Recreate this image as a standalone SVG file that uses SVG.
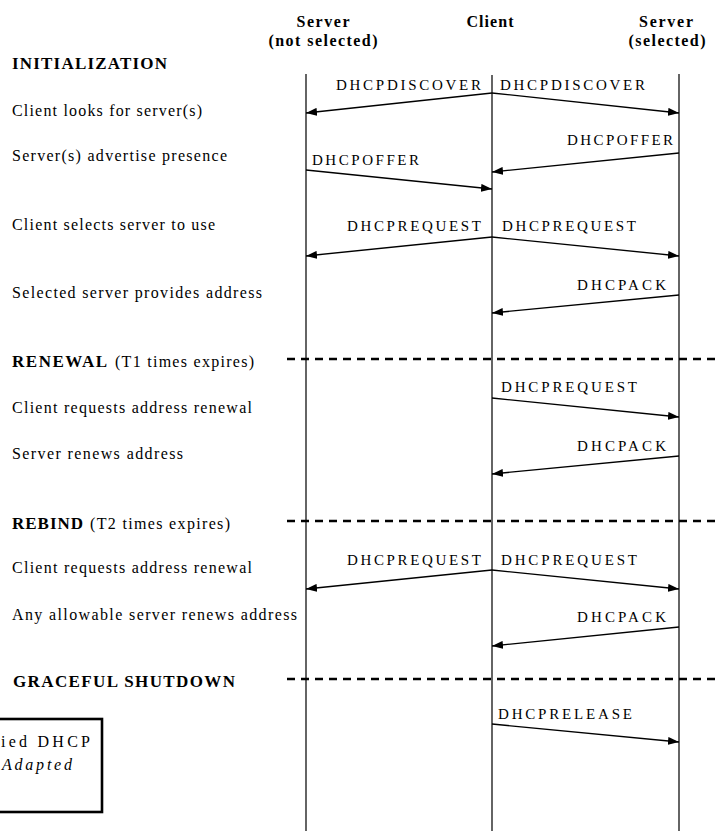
<svg xmlns="http://www.w3.org/2000/svg" width="715" height="833" viewBox="0 0 715 833" font-family="'Liberation Serif', 'DejaVu Serif', 'Times New Roman', serif">
  <defs>
    <marker id="ah" viewBox="0 0 11 8" refX="11" refY="4" markerWidth="11" markerHeight="8" markerUnits="userSpaceOnUse" orient="auto">
      <path d="M0,0 L11,4 L0,8 z" fill="#000"/>
    </marker>
    <style>
      text { font-family: 'Liberation Serif', 'DejaVu Serif', 'Times New Roman', serif; fill: #000; }
      .hdr { font-weight: bold; font-size: 16px; text-anchor: middle; }
      .sec { font-weight: bold; font-size: 17px; }
      .note { font-size: 16px; }
      .msg { font-size: 15px; }
      .life { stroke: #111; stroke-width: 1.3; fill: none; }
      .sep { stroke: #000; stroke-width: 2.6; stroke-dasharray: 8 6; fill: none; }
      .arr { stroke: #000; stroke-width: 1.3; fill: none; marker-end: url(#ah); }
    </style>
  </defs>

  <rect width="715" height="833" fill="#fff"/>

  <!-- column headers -->
  <g id="hdr-server-not-selected">
    <text class="hdr" x="323" y="27" textLength="53" lengthAdjust="spacing">Server</text>
    <text class="hdr" x="323" y="46" textLength="109" lengthAdjust="spacing">(not selected)</text>
  </g>
  <g id="hdr-client">
    <text class="hdr" x="490" y="27" textLength="47" lengthAdjust="spacing">Client</text>
  </g>
  <g id="hdr-server-selected">
    <text class="hdr" x="666" y="27" textLength="54" lengthAdjust="spacing">Server</text>
    <text class="hdr" x="667" y="46" textLength="77" lengthAdjust="spacing">(selected)</text>
  </g>

  <!-- lifelines -->
  <g id="lifelines">
    <line class="life" x1="306" y1="74" x2="306" y2="831"/>
    <line class="life" x1="492" y1="75" x2="492" y2="831"/>
    <line class="life" x1="679" y1="74" x2="679" y2="831"/>
  </g>

  <!-- phase separators -->
  <g id="separators">
    <line class="sep" x1="287" y1="359" x2="715" y2="359"/>
    <line class="sep" x1="287" y1="521" x2="715" y2="521"/>
    <line class="sep" x1="287" y1="679" x2="715" y2="679"/>
  </g>

  <!-- step descriptions -->
  <g id="steps">
    <text class="sec" x="12" y="69" font-size="18" textLength="155" lengthAdjust="spacing">INITIALIZATION</text>
    <text class="note" x="12" y="116" textLength="190" lengthAdjust="spacing">Client looks for server(s)</text>
    <text class="note" x="12" y="161" textLength="215" lengthAdjust="spacing">Server(s) advertise presence</text>
    <text class="note" x="12" y="230" textLength="203" lengthAdjust="spacing">Client selects server to use</text>
    <text class="note" x="12" y="298" textLength="250" lengthAdjust="spacing">Selected server provides address</text>

    <text class="sec" x="12" y="367" textLength="95" lengthAdjust="spacing">RENEWAL</text>
    <text class="note" x="115" y="367" textLength="139" lengthAdjust="spacing">(T1 times expires)</text>
    <text class="note" x="12" y="413" textLength="240" lengthAdjust="spacing">Client requests address renewal</text>
    <text class="note" x="12" y="459" textLength="171" lengthAdjust="spacing">Server renews address</text>

    <text class="sec" x="12" y="529" textLength="71" lengthAdjust="spacing">REBIND</text>
    <text class="note" x="90" y="529" textLength="140" lengthAdjust="spacing">(T2 times expires)</text>
    <text class="note" x="12" y="573" textLength="240" lengthAdjust="spacing">Client requests address renewal</text>
    <text class="note" x="12" y="620" textLength="285" lengthAdjust="spacing">Any allowable server renews address</text>

    <text class="sec" x="13" y="687" font-size="16" textLength="222" lengthAdjust="spacing">GRACEFUL SHUTDOWN</text>
  </g>

  <!-- source note box, partly outside the left edge -->
  <g id="source-box">
    <rect x="-20" y="719" width="122" height="93" fill="#fff" stroke="#000" stroke-width="2.6"/>
    <text class="note" x="1" y="747" textLength="89" lengthAdjust="spacing">ied DHCP</text>
    <text class="note" x="2" y="770" font-style="italic" textLength="70" lengthAdjust="spacing">Adapted</text>
  </g>

  <!-- messages -->
  <g id="connectors">
    <!-- initialization -->
    <line class="arr" x1="492" y1="93" x2="306" y2="113"/>
    <line class="arr" x1="492" y1="93" x2="679" y2="113"/>
    <line class="arr" x1="679" y1="153" x2="492" y2="172"/>
    <line class="arr" x1="306" y1="170" x2="492" y2="189"/>
    <line class="arr" x1="492" y1="237" x2="306" y2="256"/>
    <line class="arr" x1="492" y1="237" x2="679" y2="256"/>
    <line class="arr" x1="679" y1="295" x2="492" y2="313"/>
    <!-- renewal -->
    <line class="arr" x1="492" y1="398" x2="679" y2="417"/>
    <line class="arr" x1="679" y1="456" x2="492" y2="474"/>
    <!-- rebind -->
    <line class="arr" x1="492" y1="570" x2="306" y2="589"/>
    <line class="arr" x1="492" y1="570" x2="679" y2="589"/>
    <line class="arr" x1="679" y1="627" x2="492" y2="646"/>
    <!-- shutdown -->
    <line class="arr" x1="492" y1="724" x2="679" y2="742"/>
  </g>

  <g id="message-labels">
    <text class="msg" x="336" y="90" textLength="145" lengthAdjust="spacing">DHCPDISCOVER</text>
    <text class="msg" x="500" y="90" textLength="145" lengthAdjust="spacing">DHCPDISCOVER</text>
    <text class="msg" x="567" y="145" textLength="106" lengthAdjust="spacing">DHCPOFFER</text>
    <text class="msg" x="312" y="165" textLength="107" lengthAdjust="spacing">DHCPOFFER</text>
    <text class="msg" x="347" y="231" textLength="134" lengthAdjust="spacing">DHCPREQUEST</text>
    <text class="msg" x="502" y="231" textLength="134" lengthAdjust="spacing">DHCPREQUEST</text>
    <text class="msg" x="577" y="290" textLength="89" lengthAdjust="spacing">DHCPACK</text>

    <text class="msg" x="501" y="392" textLength="136" lengthAdjust="spacing">DHCPREQUEST</text>
    <text class="msg" x="577" y="451" textLength="89" lengthAdjust="spacing">DHCPACK</text>

    <text class="msg" x="347" y="565" textLength="134" lengthAdjust="spacing">DHCPREQUEST</text>
    <text class="msg" x="501" y="565" textLength="136" lengthAdjust="spacing">DHCPREQUEST</text>
    <text class="msg" x="577" y="622" textLength="89" lengthAdjust="spacing">DHCPACK</text>

    <text class="msg" x="498" y="719" textLength="134" lengthAdjust="spacing">DHCPRELEASE</text>
  </g>
</svg>
